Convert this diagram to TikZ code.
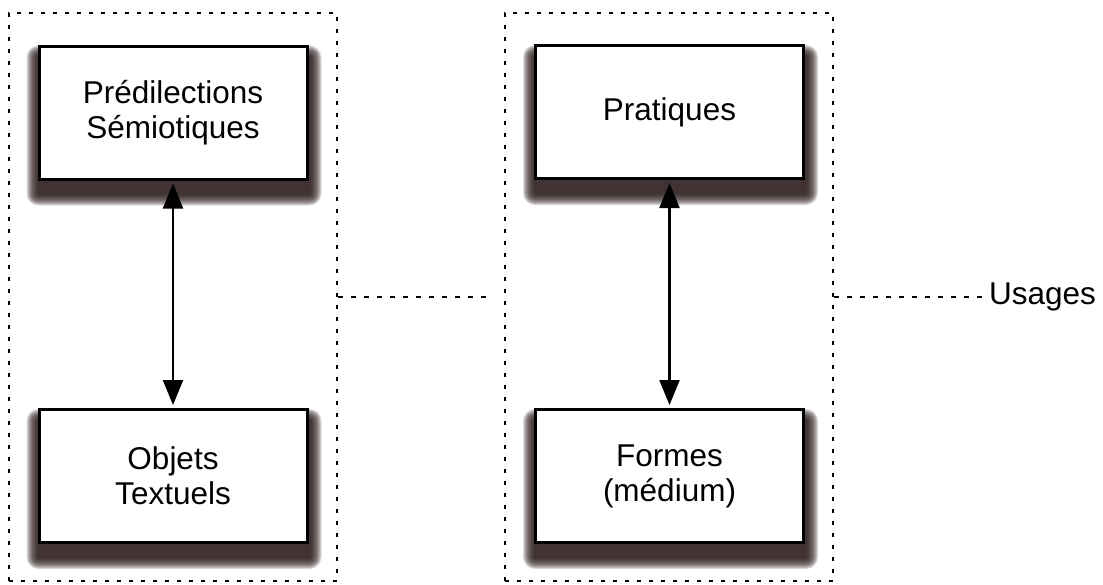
\documentclass[tikz,border=0pt]{standalone}
\usepackage{fontspec}
\setmainfont{Liberation Sans}
\usetikzlibrary{arrows.meta,backgrounds}
\definecolor{shadowcol}{RGB}{38,22,22}
\tikzset{
  conceptbox/.style={draw=black, line width=3pt, fill=white,
    minimum width=268pt, minimum height=133pt, align=center, inner sep=0pt,
    font=\fontsize{31.5}{35}\selectfont},
  groupframe/.style={draw=black, line width=2.6pt, dash pattern=on 4pt off 8pt,
    minimum width=328pt, minimum height=568pt, inner sep=0pt},
  dotline/.style={line width=2.6pt, dash pattern=on 5pt off 8pt},
  biarrow/.style={line width=2.2pt,
    {Triangle[width=20pt,length=25pt]}-{Triangle[width=20pt,length=25pt]},
    shorten <=3pt, shorten >=3pt},
  sidelabel/.style={font=\fontsize{31.5}{35}\selectfont, inner sep=0pt},
}
% soft drop shadow under a box, built from stacked translucent rectangles
\newcommand\dropshadow[1]{%
  \foreach \e in {12,11,...,1}{%
    \fill[shadowcol, opacity=0.16, rounded corners=\e pt]
      ([shift={(1-\e,13-\e)}]#1.north west) rectangle ([shift={(1+\e,13+\e)}]#1.south east);
  }%
}
\begin{document}
\begin{tikzpicture}[x=1pt, y=-1pt]
  \useasboundingbox (0,0) rectangle (1103,584);

  % the two groups
  \node[groupframe] (leftgrp)  at (173,297) {};
  \node[groupframe] (rightgrp) at (669,297) {};

  % concept boxes
  \node[conceptbox] (pred)   at (173,112.5) {Prédilections\\Sémiotiques};
  \node[conceptbox] (obj)    at (173,476)   {Objets\\Textuels};
  \node[conceptbox] (prat)   at (669.5,112) {Pratiques};
  \node[conceptbox] (formes) at (669.5,476) {Formes\\(médium)};

  \begin{scope}[on background layer]
    \dropshadow{pred}
    \dropshadow{obj}
    \dropshadow{prat}
    \dropshadow{formes}
  \end{scope}

  % two-way links inside each group
  \draw[biarrow] (pred.south) -- (obj.north);
  \draw[biarrow] (prat.south) -- (formes.north);

  % dotted leaders between the groups
  \coordinate (gapend) at (488,297);
  \node[sidelabel, anchor=west] (usages) at (989,297) {Usages};
  \draw[dotline] (leftgrp.east) -- (gapend);
  \draw[dotline] (rightgrp.east) -- (usages.west);
\end{tikzpicture}
\end{document}
